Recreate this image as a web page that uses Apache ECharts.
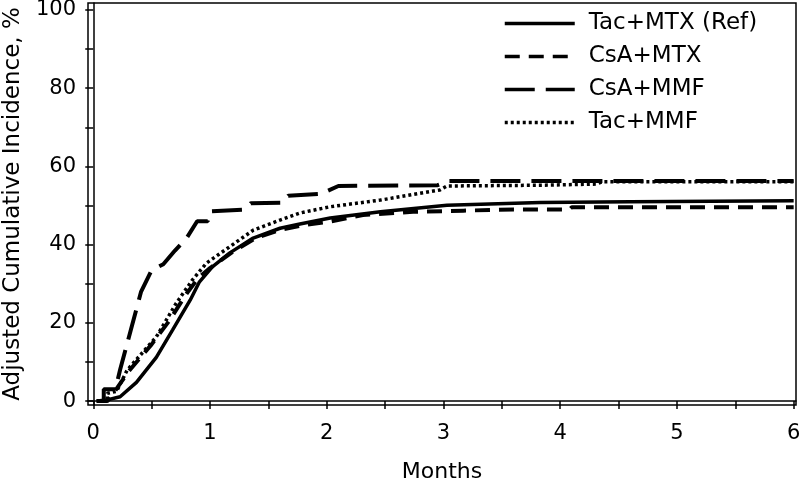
<!DOCTYPE html>
<html>
<head>
<meta charset="utf-8">
<script src="https://cdn.jsdelivr.net/npm/echarts@6/dist/echarts.min.js"></script>
<style>html,body{margin:0;padding:0;background:#fff}#c{width:800px;height:479px}</style>
</head>
<body>
<div id="c"></div>
<script>
// ---- data (months, adjusted cumulative incidence %) ----
var seriesNames = ['Tac+MTX (Ref)', 'CsA+MTX', 'CsA+MMF', 'Tac+MMF'];

var tacMtxMonths = [0.03, 0.12, 0.23, 0.37, 0.54, 0.68, 0.83, 0.91, 1.02, 1.17, 1.37, 1.6, 1.77, 2.03, 2.46, 3.03, 3.83, 4.6, 6.0];
var tacMtxValues = [0, 0.3, 1.1, 4.8, 11.2, 18.2, 25.8, 30.5, 34.3, 37.9, 41.7, 44.2, 45.3, 46.8, 48.4, 50.1, 50.8, 51.0, 51.2];

var csaMtxMonths = [0.03, 0.12, 0.15, 0.3, 0.5, 0.65, 0.8, 0.9, 1.0, 1.2, 1.4, 1.6, 1.8, 2.03, 2.31, 2.74, 3.17, 3.6, 4.08, 4.1, 6.0];
var csaMtxValues = [0, 0, 1, 7.5, 14.5, 20.5, 27.5, 31.5, 34, 38.3, 41.8, 43.8, 45, 45.9, 47.6, 48.4, 48.7, 49, 49, 49.6, 49.6];

var csaMmfMonths = [0.03, 0.09, 0.09, 0.19, 0.23, 0.32, 0.41, 0.5, 0.6, 0.7, 0.8, 0.89, 0.98, 1.0, 1.3, 1.35, 1.62, 1.67, 1.95, 2.1, 2.95, 3.05, 6.0];
var csaMmfValues = [0, 0, 3, 3, 8, 18, 28, 33.5, 35, 38.5, 41.7, 46, 46, 48.5, 49, 50.6, 50.7, 52.5, 53, 55, 55.2, 56.3, 56.3];

var tacMmfMonths = [0.03, 0.12, 0.12, 0.2, 0.29, 0.54, 0.71, 0.85, 0.97, 1.17, 1.37, 1.6, 1.77, 2.03, 2.46, 2.97, 3.03, 3.83, 4.31, 4.36, 6.0];
var tacMmfValues = [0, 0, 2, 2.5, 7.9, 16.4, 25, 31, 35.3, 39.5, 43.7, 46.3, 48.1, 49.7, 51.4, 54, 55, 55.2, 55.5, 56.1, 56.1];

var xTickValues = [0, 0.5, 1, 1.5, 2, 2.5, 3, 3.5, 4, 4.5, 5, 5.5, 6];
var xLabelValues = [0, 1, 2, 3, 4, 5, 6];
var yTickValues = [0, 10, 20, 30, 40, 50, 60, 70, 80, 90, 100];
var yLabelValues = [0, 20, 40, 60, 80, 100];

function zip(a, b) { return a.map(function (v, i) { return [v, b[i]]; }); }

var FONT = 'DejaVu Sans';
var chart = echarts.init(document.getElementById('c'), null, { renderer: 'canvas' });

function mk(name, xs, ys, type, width) {
  return {
    name: name, type: 'line', data: zip(xs, ys), symbol: 'none', showSymbol: false,
    smooth: false, animation: false,
    lineStyle: { color: '#000', width: width, type: type, cap: 'butt' },
    itemStyle: { color: '#000' },
    emphasis: { disabled: true }
  };
}

chart.setOption({
  animation: false,
  backgroundColor: '#fff',
  grid: { left: 88, right: 4, top: 3, bottom: 74, show: true, borderColor: '#000', borderWidth: 1.5,
          containLabel: false, outerBoundsMode: 'none' },
  legend: {
    orient: 'vertical', left: 498, top: 7, itemWidth: 70, itemHeight: 14, itemGap: 10,
    data: seriesNames,
    itemStyle: { opacity: 0, color: 'rgba(0,0,0,0)', borderColor: 'rgba(0,0,0,0)', borderWidth: 0 },
    lineStyle: { width: 3.5 },
    textStyle: { fontFamily: FONT, fontSize: 23, color: '#000', lineHeight: 22, padding: [0, 0, 0, 9] },
    selectedMode: false
  },
  xAxis: {
    type: 'value', min: -0.045, max: 6.02,
    name: 'Months', nameLocation: 'middle', nameGap: 56,
    nameTextStyle: { fontFamily: FONT, fontSize: 22, color: '#000' },
    axisLine: { show: true, lineStyle: { color: '#000', width: 1.5 } },
    axisTick: { show: true, inside: false, length: 8, customValues: xTickValues, lineStyle: { color: '#000', width: 1.5 } },
    axisLabel: { customValues: xLabelValues, fontFamily: FONT, fontSize: 21, color: '#000', margin: 18 },
    splitLine: { show: false }
  },
  yAxis: {
    type: 'value', min: -1.0, max: 101.8,
    name: 'Adjusted Cumulative Incidence, %', nameLocation: 'middle', nameGap: 51,
    nameTextStyle: { fontFamily: FONT, fontSize: 23, color: '#000' },
    axisLine: { show: true, lineStyle: { color: '#000', width: 1.5 } },
    axisTick: { show: true, inside: false, length: 8, customValues: yTickValues, lineStyle: { color: '#000', width: 1.5 } },
    axisLabel: { customValues: yLabelValues, fontFamily: FONT, fontSize: 21, color: '#000', margin: 12 },
    splitLine: { show: false }
  },
  series: [
    mk(seriesNames[0], tacMtxMonths, tacMtxValues, 'solid', 3.5),
    mk(seriesNames[1], csaMtxMonths, csaMtxValues, [15, 9], 4),
    mk(seriesNames[2], csaMmfMonths, csaMmfValues, [30, 11], 4),
    mk(seriesNames[3], tacMmfMonths, tacMmfValues, [3, 3], 3.5)
  ]
});
</script>
</body>
</html>
